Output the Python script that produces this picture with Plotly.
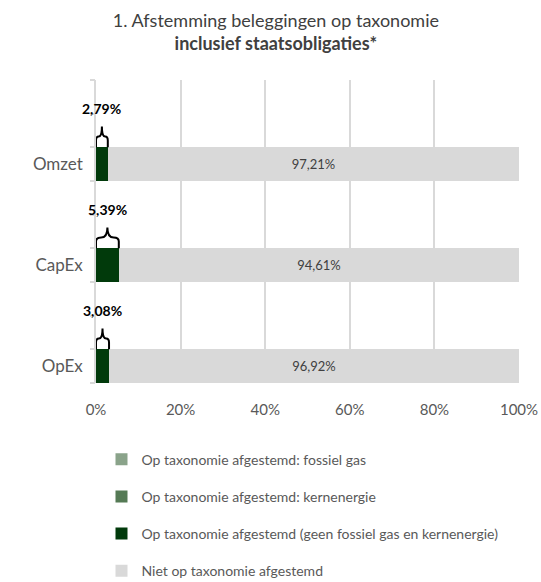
import plotly.graph_objects as go

categories = ["OpEx", "CapEx", "Omzet"]
cat_pos = [0, 3, 6]
fossiel_gas = [0.0, 0.0, 0.0]
kernenergie = [0.0, 0.0, 0.0]
afgestemd = [3.08, 5.39, 2.79]
niet_afgestemd = [96.92, 94.61, 97.21]
x_ticks = [0, 20, 40, 60, 80, 100]

series_names = [
    "Op taxonomie afgestemd: fossiel gas",
    "Op taxonomie afgestemd: kernenergie",
    "Op taxonomie afgestemd (geen fossiel gas en kernenergie)",
    "Niet op taxonomie afgestemd",
]
colors = ["#8AA38A", "#557A55", "#013A0B", "#D9D9D9"]

def pct(v):
    return f"{v:.2f}".replace(".", ",") + "%"

FONT = "Lato"
fig = go.Figure()
all_vals = [fossiel_gas, kernenergie, afgestemd, niet_afgestemd]
for i, (name, vals, col) in enumerate(zip(series_names, all_vals, colors)):
    kw = {}
    if i == 3:
        kw = dict(text=[pct(v) for v in vals], textposition="inside",
                  insidetextanchor="middle",
                  textfont=dict(family=FONT, size=13, color="#404040"))
    fig.add_trace(go.Bar(
        y=cat_pos, x=vals, orientation="h", name=name,
        marker=dict(color=col, line=dict(width=0)),
        legendgroup=f"g{i}", width=1.0, **kw))

# braces and callout labels
for p, v in zip(cat_pos, afgestemd):
    y0 = p + 0.5
    m = v / 2
    path = (f"M 0,{y0} L 0,{y0+0.2} "
            f"Q 0,{y0+0.32} {m*0.45},{y0+0.32} "
            f"Q {m},{y0+0.32} {m},{y0+0.62} "
            f"Q {m},{y0+0.32} {m*1.55},{y0+0.32} "
            f"Q {v},{y0+0.32} {v},{y0+0.2} L {v},{y0}")
    fig.add_shape(type="path", path=path, xref="x", yref="y",
                  line=dict(color="black", width=2))
    fig.add_annotation(x=m, y=p + 1.64, text=f"<b>{pct(v)}</b>", showarrow=False,
                       xref="x", yref="y",
                       font=dict(family=FONT, size=14, color="black"))

# invisible trace for y tick marks on overlaid axis
fig.add_trace(go.Scatter(x=[None], y=[None], yaxis="y2", showlegend=False))

fig.update_layout(
    width=541, height=582,
    paper_bgcolor="white", plot_bgcolor="white",
    barmode="stack", bargap=0,
    margin=dict(l=96, r=22, t=80, b=199, autoexpand=False),
    title=dict(
        text="1. Afstemming beleggingen op taxonomie<br><b>inclusief staatsobligaties*</b>",
        x=0.51, xanchor="center", yref="container", y=0.9535, yanchor="middle",
        font=dict(family=FONT, size=18, color="#404040")),
    xaxis=dict(range=[0, 100], tickvals=x_ticks,
               ticktext=[f"{t}%" for t in x_ticks],
               showgrid=True, gridcolor="#D9D9D9", gridwidth=1.5,
               zeroline=False, showline=False, ticks="",
               ticklabelstandoff=16,
               tickfont=dict(family=FONT, size=15, color="#595959")),
    yaxis=dict(range=[-0.5, 8.5], tickvals=cat_pos, ticktext=categories,
               showgrid=False, zeroline=False, showline=True,
               linecolor="#D9D9D9", linewidth=1.5, ticks="",
               ticklabelstandoff=8,
               tickfont=dict(family=FONT, size=17, color="#595959")),
    yaxis2=dict(range=[-0.5, 8.5], overlaying="y", side="left",
                tickvals=[k - 0.5 for k in range(10)],
                ticks="outside", ticklen=5, tickcolor="#D9D9D9", tickwidth=1.5,
                showticklabels=False, showgrid=False, zeroline=False),
    legend=dict(x=0.013, xanchor="left", y=-0.2, yanchor="top",
                traceorder="grouped", tracegroupgap=16,
                font=dict(family=FONT, size=14, color="#595959"),
                itemwidth=30),
)

fig.write_html("out.html", config={"displayModeBar": False},
               post_script="document.body.style.margin='0px';document.body.style.overflow='hidden';")
